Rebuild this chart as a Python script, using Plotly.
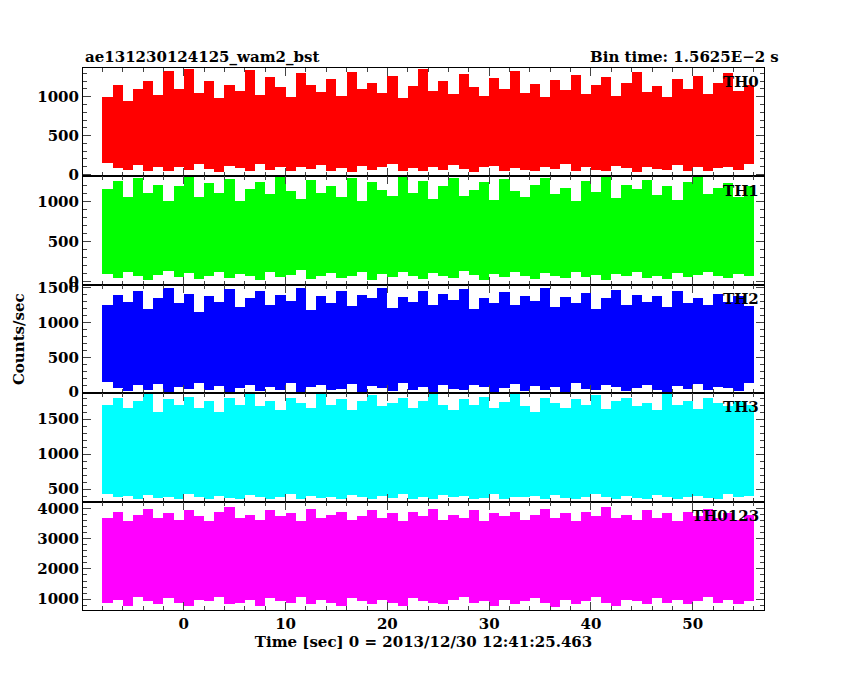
import plotly.graph_objects as go
from plotly.subplots import make_subplots

t_start = -8.0
bin_w = 1.0
n_bins = 64
times = [t_start + bin_w * (i + 0.5) for i in range(n_bins)]

th0_hi = [1000,1150,950,1100,1200,1020,1330,1100,1360,1050,1200,990,1150,1080,1340,1020,1250,1120,1000,1300,1150,1060,1230,1010,1320,1100,1180,1050,1270,990,1140,1360,1080,1200,1030,1290,1120,1010,1240,1100,1330,1050,1160,1000,1210,1090,1280,1030,1150,1250,1010,1180,1320,1060,1140,1000,1230,1100,1270,1040,1180,1300,1080,1150]
th0_lo = [150,80,60,120,50,90,40,100,60,130,70,30,110,80,50,140,60,90,40,100,70,120,50,80,30,110,60,90,130,50,80,40,100,60,120,70,30,90,110,50,80,60,40,100,70,130,50,90,60,40,110,80,30,100,70,60,120,50,90,40,80,100,60,130]
th1_hi = [1150,1250,1050,1280,1100,1200,1000,1180,1300,1050,1220,1100,1270,1000,1150,1240,1080,1300,1120,1020,1260,1100,1190,1050,1280,1000,1230,1130,1060,1300,1100,1250,1020,1180,1290,1060,1140,1230,1010,1270,1120,1050,1200,1280,1080,1160,1000,1250,1110,1300,1040,1200,1150,1260,1070,1180,1010,1240,1300,1090,1160,1220,1050,1180]
th1_lo = [90,40,110,60,20,80,130,50,100,30,70,120,40,90,60,20,110,50,80,140,30,70,100,40,60,120,20,90,50,110,70,30,100,60,40,130,80,20,90,50,110,60,30,100,70,40,120,50,80,20,90,60,110,40,70,30,100,50,80,120,60,40,90,70]
th2_hi = [1250,1400,1300,1450,1200,1350,1500,1280,1420,1150,1380,1300,1480,1220,1360,1450,1250,1400,1320,1500,1180,1380,1290,1460,1240,1400,1350,1500,1210,1370,1300,1450,1260,1410,1330,1480,1200,1360,1290,1440,1250,1390,1310,1500,1230,1370,1280,1430,1200,1350,1470,1260,1400,1300,1380,1220,1450,1290,1360,1250,1420,1300,1380,1240]
th2_lo = [150,60,20,100,40,120,10,80,50,140,30,90,0,60,110,20,80,40,130,10,70,100,30,50,120,0,90,60,20,140,40,80,10,110,50,30,100,70,0,60,120,20,90,40,80,10,130,50,30,100,70,20,60,110,40,0,90,50,120,30,80,60,20,140]
th3_hi = [1700,1800,1650,1750,1850,1600,1780,1700,1820,1650,1750,1600,1800,1700,1850,1680,1760,1620,1800,1720,1660,1850,1700,1780,1620,1750,1840,1680,1720,1800,1650,1760,1860,1700,1620,1780,1700,1820,1660,1740,1850,1690,1600,1800,1720,1660,1780,1700,1840,1640,1760,1800,1680,1720,1620,1850,1700,1760,1640,1800,1720,1680,1760,1700]
th3_lo = [420,380,400,360,410,370,390,350,420,380,360,400,370,350,410,390,360,380,420,350,400,370,390,360,410,380,350,400,370,420,360,390,350,410,380,400,360,370,420,350,390,380,400,360,410,370,350,390,420,380,360,400,370,350,410,390,360,380,400,370,350,420,380,400]
th4_hi = [3700,3900,3600,3800,4000,3700,3850,3650,3950,3750,3600,3900,4050,3700,3800,3650,3950,3750,3850,3600,4000,3700,3800,3900,3650,3750,3950,3700,3850,3600,3900,3750,4000,3650,3800,3700,3950,3600,3850,3750,3900,3650,3800,4000,3700,3850,3600,3900,3750,4050,3700,3800,3650,3950,3700,3850,3600,3900,3750,4000,3700,3850,3650,3800]
th4_lo = [900,1000,800,1100,950,850,1050,900,780,1000,950,1100,850,900,1000,800,1050,950,900,1100,850,1000,900,800,1050,950,850,1000,900,780,1050,950,900,850,1000,1100,900,950,800,1000,850,950,1050,900,750,1000,850,950,1100,900,800,1000,950,850,1050,900,1000,850,950,1100,900,1000,850,950]

panels = [
    ("TH0", th0_hi, th0_lo, "#ff0000", [-25, 1370], [0, 500, 1000]),
    ("TH1", th1_hi, th1_lo, "#00ff00", [-40, 1310], [0, 500, 1000]),
    ("TH2", th2_hi, th2_lo, "#0000ff", [-15, 1543], [0, 500, 1000, 1500]),
    ("TH3", th3_hi, th3_lo, "#00ffff", [320, 1870], [500, 1000, 1500]),
    ("TH0123", th4_hi, th4_lo, "#ff00ff", [640, 4230], [1000, 2000, 3000, 4000]),
]

fig = make_subplots(rows=5, cols=1, shared_xaxes=True, vertical_spacing=0)
font = dict(family="DejaVu Serif", size=15, color="black", weight="bold")
for i, (name, hi, lo, col, yr, tv) in enumerate(panels, start=1):
    fig.add_trace(go.Bar(x=times, y=[h - l for h, l in zip(hi, lo)], base=lo,
                         width=bin_w, marker=dict(color=col, line=dict(width=0)),
                         showlegend=False), row=i, col=1)
    fig.update_yaxes(range=yr, tickvals=tv, ticks="inside", ticklen=8, mirror="ticks",
                     showline=True, linecolor="black", linewidth=1, showgrid=False,
                     zeroline=False, tickfont=font, automargin=False,
                     minor=dict(ticks="inside", ticklen=4, dtick=100 if i < 5 else 200),
                     row=i, col=1)
    fig.add_annotation(text="%s" % name, xref="x domain", yref="y%s domain" % ("" if i == 1 else i),
                       x=0.995, y=0.97, xanchor="right", yanchor="top", showarrow=False,
                       font=font)

fig.update_xaxes(range=[-9.9, 57], tickvals=[0, 10, 20, 30, 40, 50], ticks="inside", ticklen=8,
                 mirror="ticks", showline=True, linecolor="black", linewidth=1, showgrid=False,
                 zeroline=False, tickfont=font, automargin=False,
                 minor=dict(ticks="inside", ticklen=4, dtick=2))
fig.update_xaxes(title=dict(text="Time [sec] 0 = 2013/12/30 12:41:25.463", font=font, standoff=2), row=5, col=1)

fig.add_annotation(text="Counts/sec", xref="paper", yref="paper", x=-0.11, y=0.5, textangle=-90,
                   showarrow=False, font=font)
fig.add_annotation(text="ae131230124125_wam2_bst", xref="paper", yref="paper", x=0, y=1.0,
                   xanchor="left", yanchor="bottom", showarrow=False, font=font)
fig.add_annotation(text="Bin time: 1.5625E−2 s", xref="paper", yref="paper", x=1.025, y=1.0,
                   xanchor="right", yanchor="bottom", showarrow=False, font=font)

fig.update_layout(width=850, height=680, margin=dict(l=75, r=94, t=60, b=78),
                  plot_bgcolor="white", paper_bgcolor="white", bargap=0)
fig.write_html("out.html")
